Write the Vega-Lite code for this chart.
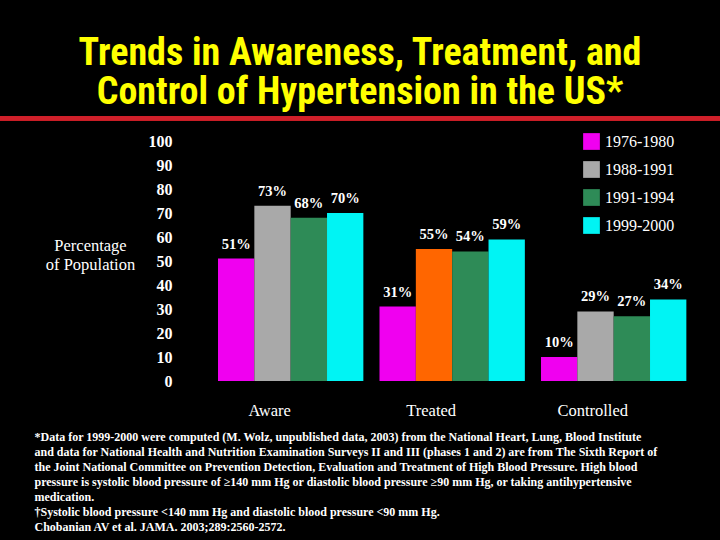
{
  "$schema": "https://vega.github.io/schema/vega-lite/v6.json",
  "width": 720,
  "height": 240,
  "autosize": {"type": "none"},
  "padding": {"left": 0, "top": 141, "right": 0, "bottom": 159},
  "background": "black",
  "config": {"view": {"stroke": null}},
  "title": {
    "text": ["Trends in Awareness, Treatment, and", "Control of Hypertension in the US*"],
    "font": "Liberation Sans Narrow, Roboto Condensed, Arial Narrow, sans-serif",
    "fontSize": 38,
    "fontWeight": "bold",
    "color": "#ffff00",
    "anchor": "middle",
    "lineHeight": 39,
    "offset": 4
  },
  "data": {
    "values": [
      {"measure": "Aware", "period": "1976-1980", "value": 51, "label": "51%"},
      {"measure": "Aware", "period": "1988-1991", "value": 73, "label": "73%"},
      {"measure": "Aware", "period": "1991-1994", "value": 68, "label": "68%"},
      {"measure": "Aware", "period": "1999-2000", "value": 70, "label": "70%"},
      {"measure": "Treated", "period": "1976-1980", "value": 31, "label": "31%"},
      {"measure": "Treated", "period": "1988-1991", "value": 55, "label": "55%"},
      {"measure": "Treated", "period": "1991-1994", "value": 54, "label": "54%"},
      {"measure": "Treated", "period": "1999-2000", "value": 59, "label": "59%"},
      {"measure": "Controlled", "period": "1976-1980", "value": 10, "label": "10%"},
      {"measure": "Controlled", "period": "1988-1991", "value": 29, "label": "29%"},
      {"measure": "Controlled", "period": "1991-1994", "value": 27, "label": "27%"},
      {"measure": "Controlled", "period": "1999-2000", "value": 34, "label": "34%"}
    ]
  },
  "encoding": {
    "x": {
      "field": "measure",
      "type": "nominal",
      "sort": ["Aware", "Treated", "Controlled"],
      "scale": {"paddingInner": 0.1, "paddingOuter": 0.7791, "align": 0.8663},
      "axis": {
        "labelAngle": 0,
        "ticks": false,
        "domain": false,
        "labelFont": "Liberation Serif",
        "labelFontSize": 16.5,
        "labelColor": "white",
        "labelPadding": 21,
        "labelOffset": -21,
        "title": [
          "*Data for 1999-2000 were computed (M. Wolz, unpublished data, 2003) from the National Heart, Lung, Blood Institute",
          "and data for National Health and Nutrition Examination Surveys II and III (phases 1 and 2) are from The Sixth Report of",
          "the Joint National Committee on Prevention Detection, Evaluation and Treatment of High Blood Pressure. High blood",
          "pressure is systolic blood pressure of ≥140 mm Hg or diastolic blood pressure ≥90 mm Hg, or taking antihypertensive",
          "medication.",
          "†Systolic blood pressure <140 mm Hg and diastolic blood pressure <90 mm Hg.",
          "Chobanian AV et al. JAMA. 2003;289:2560-2572."
        ],
        "titleX": 34,
        "titleY": 50,
        "titleAlign": "left",
        "titleAnchor": "start",
        "titleBaseline": "top",
        "titleFont": "Liberation Serif",
        "titleFontSize": 12,
        "titleFontWeight": "bold",
        "titleLineHeight": 15,
        "titleColor": "white"
      }
    },
    "xOffset": {
      "field": "period",
      "type": "nominal",
      "sort": ["1976-1980", "1988-1991", "1991-1994", "1999-2000"],
      "scale": {"paddingInner": 0, "paddingOuter": 0}
    },
    "y": {
      "field": "value",
      "type": "quantitative",
      "scale": {"domain": [0, 100], "nice": false},
      "axis": {
        "offset": -200,
        "values": [0, 10, 20, 30, 40, 50, 60, 70, 80, 90, 100],
        "ticks": false,
        "domain": false,
        "grid": false,
        "labelPadding": 28,
        "labelFont": "Liberation Serif",
        "labelFontSize": 16,
        "labelFontWeight": "bold",
        "labelColor": "white",
        "title": ["Percentage", "of Population"],
        "titleAngle": 0,
        "titleX": -110,
        "titleY": 96,
        "titleAlign": "center",
        "titleBaseline": "top",
        "titleFont": "Liberation Serif",
        "titleFontSize": 16.5,
        "titleFontWeight": "normal",
        "titleLineHeight": 19,
        "titleColor": "white"
      }
    }
  },
  "layer": [
    {
      "mark": {"type": "bar", "stroke": null},
      "encoding": {
        "color": {
          "condition": {"test": "datum.measure === 'Treated' && datum.period === '1988-1991'", "value": "#ff6600"},
          "field": "period",
          "type": "nominal",
          "scale": {
            "domain": ["1976-1980", "1988-1991", "1991-1994", "1999-2000"],
            "range": ["#f000f0", "#a9a9a9", "#2e8b57", "#00f4f4"]
          },
          "legend": {
            "orient": "none",
            "legendX": 583,
            "legendY": -8,
            "title": null,
            "symbolType": "square",
            "symbolSize": 280,
            "symbolStrokeWidth": 0,
            "symbolOpacity": 1,
            "labelFont": "Liberation Serif",
            "labelFontSize": 16,
            "labelColor": "white",
            "labelOffset": 5,
            "rowPadding": 11
          }
        }
      }
    },
    {
      "mark": {
        "type": "text",
        "baseline": "bottom",
        "dy": -7,
        "font": "Liberation Serif",
        "fontSize": 14.5,
        "fontWeight": "bold",
        "color": "white"
      },
      "encoding": {"text": {"field": "label"}}
    },
    {
      "mark": {"type": "rule", "color": "#d0202a", "strokeWidth": 4},
      "encoding": {"y": {"datum": 109.5}, "x": null, "xOffset": null}
    }
  ]
}
